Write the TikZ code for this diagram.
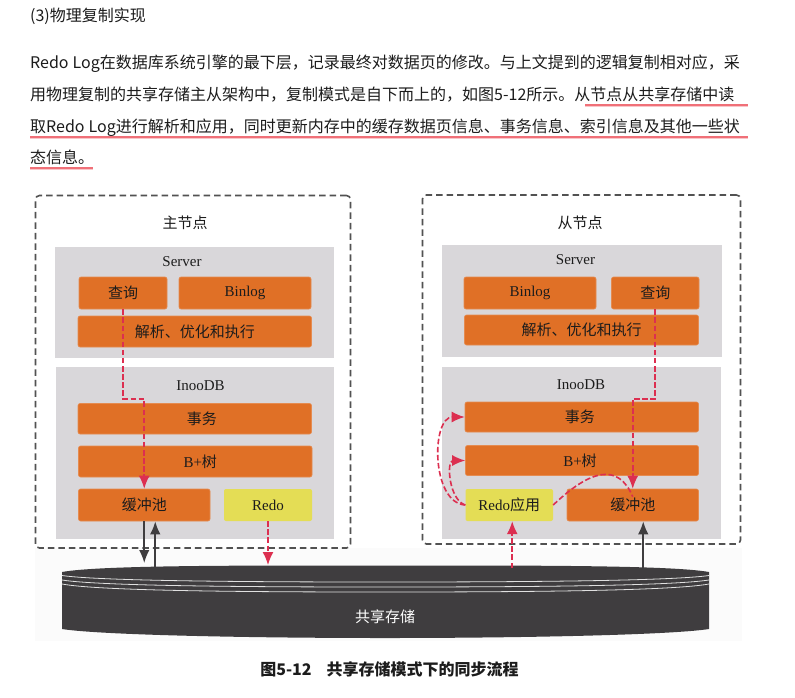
\documentclass[tikz,border=0pt]{standalone}
\usepackage{fontspec}
\setmainfont{Noto Sans CJK SC}
\newfontfamily\srf{Liberation Serif}
\usetikzlibrary{arrows.meta}
\XeTeXlinebreaklocale "zh"
\XeTeXlinebreakskip=0pt plus 1pt
\definecolor{orangebox}{HTML}{E07026}
\definecolor{orangeedge}{HTML}{E58B50}
\definecolor{yellowbox}{HTML}{E4DD55}
\definecolor{greybox}{HTML}{D9D7DA}
\definecolor{darkdisk}{HTML}{3F3D3F}
\definecolor{redline}{HTML}{DC2F50}
\definecolor{inkc}{HTML}{1C1C1C}
\definecolor{underl}{HTML}{F07078}
\tikzset{
  greypanel/.style={fill=greybox,draw=none,inner sep=0pt},
  obox/.style={fill=orangebox,draw=orangeedge,line width=0.6pt,rounded corners=2pt,inner sep=0pt,text=inkc,font=\fontsize{15}{15}\selectfont},
  ybox/.style={fill=yellowbox,draw=none,rounded corners=2pt,inner sep=0pt,text=inkc,font=\fontsize{15}{15}\selectfont},
  nodeframe/.style={draw=black!68,dash pattern=on 6.5pt off 4pt,line width=1.6pt,rounded corners=4pt,inner sep=0pt},
  lbl/.style={inner sep=0pt,text=inkc,font=\fontsize{15}{15}\selectfont},
  srflbl/.style={inner sep=0pt,text=inkc,font=\srf\fontsize{15}{15}\selectfont},
  bodytext/.style={anchor=base west,inner sep=0pt,text=inkc,font=\fontsize{16}{16}\selectfont},
  redarrow/.style={draw=redline,line width=1.6pt,dash pattern=on 5.5pt off 2.6pt,-{Latex[length=13pt,width=11pt]}},
  redbent/.style={draw=redline,line width=1.6pt,dash pattern=on 5.5pt off 2.6pt,-{Latex[length=13pt,width=11pt,quick]}},
  redcurve/.style={draw=redline,line width=1.6pt,dash pattern=on 5.5pt off 2.6pt},
  blackarrow/.style={draw=darkdisk,line width=1.7pt,-{Latex[length=13pt,width=10.5pt]}},
  ulineglow/.style={draw=underl!40,line width=2.4pt},
  uline/.style={draw=underl,line width=1.1pt},
  wline/.style={draw=black!12,line width=0.8pt}
}
\newcommand\bx[7]{%
  \pgfmathsetmacro\bxcx{(#2+#4)/2}\pgfmathsetmacro\bxcy{(#3+#5)/2}%
  \pgfmathsetmacro\bxw{#4-#2}\pgfmathsetmacro\bxh{#5-#3}%
  \node[#6,minimum width=\bxw pt,minimum height=\bxh pt] (#1) at (\bxcx,\bxcy) {#7};}
\begin{document}
\begin{tikzpicture}[x=1pt,y=-1pt]
\useasboundingbox (0,0) rectangle (795,697);
\fill[white] (0,0) rectangle (795,697);
% body text
\node[bodytext] (t0) at (30,21) {(3)物理复制实现};
\node[bodytext] (t1) at (30,68.5) {\hbox to 718pt{Redo\hspace{4pt}Log在数据库系统引擎的最下层，记录最终对数据页的修改。与上文提到的逻辑复制相对应，采}};
\node[bodytext] (t2) at (30,100.5) {\hbox to 718pt{用物理复制的共享存储主从架构中，复制模式是自下而上的，如图5-12所示。从节点从共享存储中读}};
\node[bodytext] (t3) at (30,132.5) {\hbox to 718pt{取Redo\hspace{4pt}Log进行解析和应用，同时更新内存中的缓存数据页信息、事务信息、索引信息及其他一些状}};
\node[bodytext] (t4) at (30,163.5) {态信息。};
\draw[ulineglow] (585,105.5) -- (748,105.5);
\draw[ulineglow] (30,137.5) -- (748,137.5);
\draw[ulineglow] (30,168.5) -- (93,168.5);
\draw[uline] (585,105) -- (748,105);
\draw[uline] (30,137) -- (748,137);
\draw[uline] (30,168) -- (93,168);
% pale page of the figure
\fill[black!1.5] (35,548) rectangle (742,641);
% frames
\bx{lframe}{35.5}{195.5}{350.5}{548}{nodeframe,fill=white}{}
\bx{rframe}{422.5}{195}{740.5}{544}{nodeframe,fill=white}{}
\node[lbl] (ltitle) at (185,223) {主节点};
\node[lbl] (rtitle) at (580,223) {从节点};
% left
\bx{lserver}{55}{247}{334}{358}{greypanel}{}
\bx{linno}{55.5}{367}{334}{539}{greypanel}{}
\node[srflbl] (lsl) at (182,262) {Server};
\node[srflbl] (lil) at (200.5,385.5) {InooDB};
\bx{lq}{79}{277}{167}{309}{obox}{查询}
\bx{lbin}{179}{277}{311}{309}{obox}{\raisebox{-2pt}{\srf Binlog}}
\bx{lpar}{78}{316}{311.5}{347}{obox}{解析、优化和执行}
\bx{ltx}{78}{403.5}{311.5}{434}{obox}{\hspace*{14pt}事务}
\bx{lbt}{78.5}{446}{312}{477}{obox}{\hspace*{10pt}{\srf B+}树}
\bx{lbuf}{78.5}{489}{210}{521}{obox}{缓冲池}
\bx{lredo}{224}{489}{312}{521}{ybox}{\srf Redo}
% right
\bx{rserver}{442}{245}{721.5}{356.5}{greypanel}{}
\bx{rinno}{442}{367}{721}{539}{greypanel}{}
\node[srflbl] (rsl) at (575.5,259.5) {Server};
\node[srflbl] (ril) at (581,384.5) {InooDB};
\bx{rbin}{464}{277}{596}{309}{obox}{\raisebox{-1.5pt}{\srf Binlog}}
\bx{rq}{611.5}{277}{699}{309}{obox}{查询}
\bx{rpar}{464.5}{315}{698.5}{345}{obox}{解析、优化和执行}
\bx{rtx}{465}{402}{698.5}{432}{obox}{\raisebox{-1pt}{事务}\hspace*{4pt}}
\bx{rbt}{465.5}{445.5}{698.5}{475.5}{obox}{\raisebox{-1pt}{{\srf B+}树}\hspace*{4pt}}
\bx{rredo}{465.5}{489}{553}{521}{ybox}{{\srf Redo}应用}
\bx{rbuf}{567}{489}{698.5}{521}{obox}{缓冲池}
% disk
\fill[darkdisk] (62,572) .. controls (100,565) and (250,565.5) .. (385,565.5) .. controls (520,565.5) and (670,565) .. (709,572)
  -- (709,629) .. controls (670,635) and (520,638) .. (385,638) .. controls (250,638) and (100,635) .. (62,629) -- cycle;
\draw[wline] (62,575.5) .. controls (100,581) and (250,582) .. (385,582) .. controls (520,582) and (670,581) .. (709,575.5);
\draw[wline] (62,580) .. controls (100,586) and (250,587) .. (385,587) .. controls (520,587) and (670,586) .. (709,580);
\draw[wline] (62,584) .. controls (100,591) and (250,592) .. (385,592) .. controls (520,592) and (670,591) .. (709,584);
\node[lbl,text=white] (disk) at (385,617) {共享存储};
% free ends and elbows
\coordinate (elbow) at (0,399);
\coordinate (diskin) at (0,563);
\coordinate (disksurf) at (0,568);
\coordinate (redoin) at (0,565);
% connectors
\draw[redarrow] (lq.south) -- (lq.south |- elbow) -- (lbuf.north |- elbow) -- (lbuf.north);
\draw[redarrow] (rq.south) -- (rq.south |- elbow) -- (rbuf.north |- elbow) -- (rbuf.north);
\draw[blackarrow] (lbuf.south) -- (lbuf.south |- diskin);
\draw[blackarrow] ([xshift=11pt]lbuf.south |- disksurf) -- ([xshift=11pt]lbuf.south);
\draw[redarrow] (lredo.south) -- (lredo.south |- redoin);
\draw[redarrow] ([xshift=3pt]rredo.south |- disksurf) -- ([xshift=3pt]rredo.south);
\draw[blackarrow] ([xshift=10.5pt]rbuf.south |- disksurf) -- ([xshift=10.5pt]rbuf.south);
\draw[redbent] (rredo.west) .. controls (431,503) and (431,417) .. (rtx.west);
\draw[redbent] (rredo.west) .. controls (449,500) and (446,460.5) .. (rbt.west);
\draw[redcurve] (rredo.east) .. controls (590,470) and (618,462) .. ([yshift=-8pt]rbuf.north);
% caption
\node[inner sep=0pt,text=inkc,font=\fontsize{16}{16}\selectfont\bfseries] (caption) at (389.5,669) {图5-12\hspace{15pt}共享存储模式下的同步流程};
\end{tikzpicture}
\end{document}
